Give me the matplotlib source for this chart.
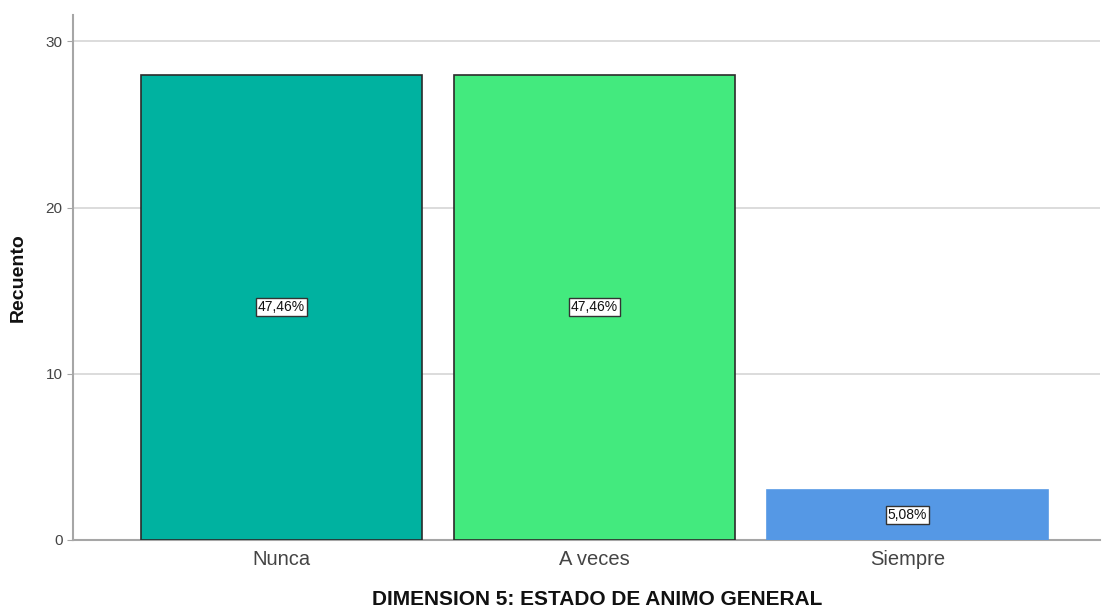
import matplotlib
matplotlib.use("Agg")
import matplotlib.pyplot as plt

plt.rcParams["font.family"] = ["Liberation Sans", "DejaVu Sans"]

categories = ["Nunca", "A veces", "Siempre"]
counts = [28, 28, 3]
pct_labels = ["47,46%", "47,46%", "5,08%"]
colors = ["#00B2A0", "#43EA7E", "#5598E5"]
edges = ["#2b2b2b", "#2b2b2b", "#5598E5"]
yticks = [0, 10, 20, 30]

fig = plt.figure(figsize=(11.02, 6.07), dpi=100)
ax = fig.add_axes([0.0662, 0.1104, 0.932, 0.8646])
x = list(range(len(categories)))
ax.bar(x, counts, width=0.898, color=colors, edgecolor=edges, linewidth=1.2, zorder=3)
for xi, c, lab in zip(x, counts, pct_labels):
    ax.text(xi, c / 2, lab, ha="center", va="center", fontsize=10, color="#111111",
            bbox=dict(boxstyle="square,pad=0.15", fc="white", ec="#333333", lw=1), zorder=4)

ax.set_xlim(-0.666, 2.615)
ax.set_ylim(0, 31.57)
ax.set_yticks(yticks)
ax.set_xticks(x)
ax.set_xticklabels(categories)
ax.yaxis.grid(True, color="#d6d6d6", lw=1.2, zorder=0)
ax.set_axisbelow(True)
for s in ["top", "right"]:
    ax.spines[s].set_visible(False)
for s in ["left", "bottom"]:
    ax.spines[s].set_color("#a6a6a6")
    ax.spines[s].set_linewidth(1.5)
ax.tick_params(axis="y", length=4, color="#a6a6a6", labelsize=11, labelcolor="#444444")
ax.tick_params(axis="x", length=0, labelsize=14.5, labelcolor="#444444", pad=7)
ax.set_ylabel("Recuento", fontsize=14, fontweight="bold", color="#111111")
ax.yaxis.set_label_coords(-0.045, 0.5)
ax.set_xlabel("DIMENSION 5: ESTADO DE ANIMO GENERAL", fontsize=15, fontweight="bold",
              color="#111111")
ax.xaxis.set_label_coords(0.51, -0.095)
fig.savefig("out.png", dpi=100)
